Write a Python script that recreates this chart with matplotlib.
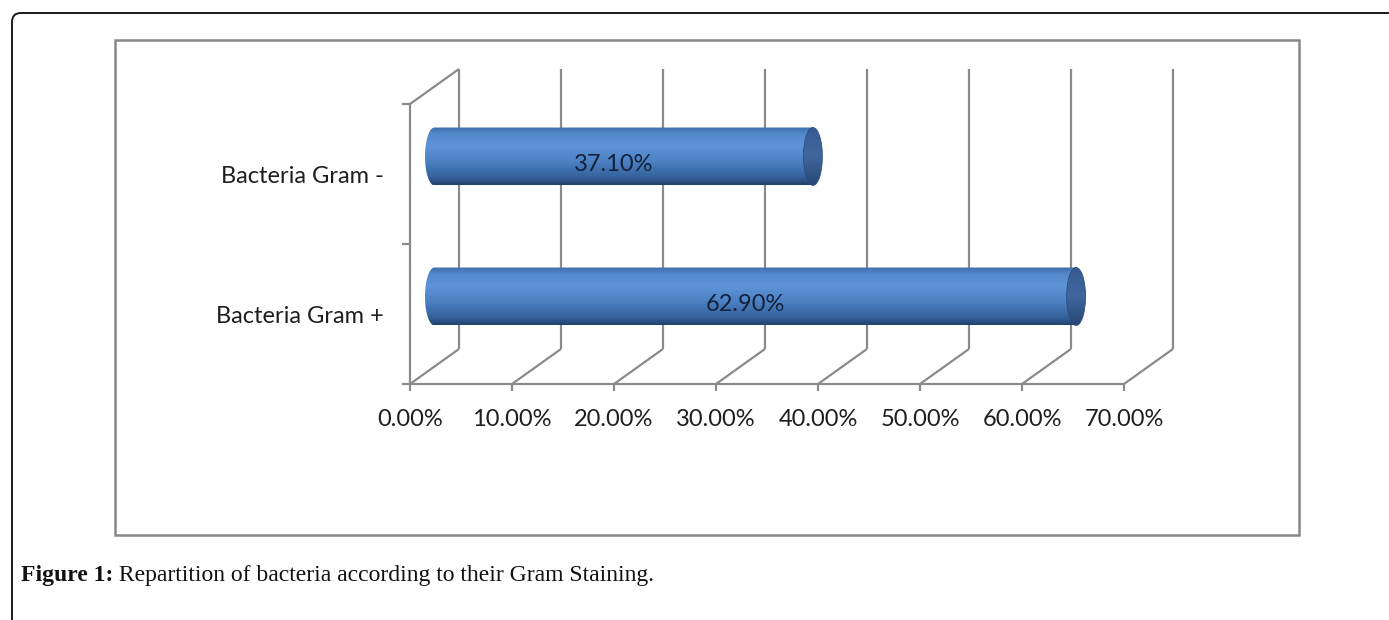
import numpy as np
import matplotlib.pyplot as plt
from matplotlib.patches import PathPatch, Ellipse, FancyBboxPatch, Rectangle
from matplotlib.path import Path
from matplotlib.colors import LinearSegmentedColormap

# data
categories = ['Bacteria Gram +', 'Bacteria Gram -']
values = [62.90, 37.10]
x_ticks = [0, 10, 20, 30, 40, 50, 60, 70]
x_tick_labels = [f'{t:.2f}%' for t in x_ticks]
caption_bold = 'Figure 1:'
caption_text = ' Repartition of bacteria according to their Gram Staining.'

plt.rcParams['font.family'] = ['Lato', 'DejaVu Sans']

W, H = 1389, 620
fig = plt.figure(figsize=(W / 100, H / 100), dpi=100)

# outer page frame (only top and left edges visible, rounded corner)
fig.patches.append(FancyBboxPatch((0.12, -2.0), 20, 6.2 - 0.13 + 2.0,
                                  boxstyle='round,pad=0,rounding_size=0.09',
                                  transform=fig.dpi_scale_trans, facecolor='none',
                                  edgecolor='#1a1a1a', lw=1.4))
# chart area border
fig.patches.append(Rectangle((1.15, 0.85), 11.84, 4.95, transform=fig.dpi_scale_trans,
                             facecolor='none', edgecolor='#878787', lw=1.8))

ax = fig.add_axes([410 / W, 236 / H, 714 / W, 280 / H])
ax.set_xlim(0, 70)
ax.set_ylim(0, 2)
ax.axis('off')

# oblique depth of the 3D box, in data units
DX, DY = 4.8, 0.25


def proj(x, y, d):
    return np.asarray(x) + np.asarray(d) * DX, np.asarray(y) + np.asarray(d) * DY


GRID = '#8a8a8a'
LW = 1.6
FS = 17
kw = dict(color=GRID, lw=LW, clip_on=False, solid_capstyle='butt', zorder=1)

# back wall gridlines and floor diagonals
for t in x_ticks:
    xs, ys = proj([t, t], [0, 2], 1)
    ax.plot(xs, ys, **kw)
    xs, ys = proj([t, t], [0, 0], [0, 1])
    ax.plot(xs, ys, **kw)

# left wall: front edge and top diagonal
ax.plot([0, 0], [0, 2], **kw)
xs, ys = proj([0, 0], [2, 2], [0, 1])
ax.plot(xs, ys, **kw)

# front baseline with ticks
ax.plot([-0.78, 70], [0, 0], **kw)
for t in x_ticks:
    ax.plot([t, t], [0, -0.05], **kw)
for yb in [1, 2]:
    ax.plot([-0.78, 0], [yb, yb], **kw)

for t, lab in zip(x_ticks, x_tick_labels):
    ax.annotate(lab, xy=(t, 0), xytext=(0, -30.6), textcoords='offset points',
                ha='center', va='baseline', fontsize=FS, color='#1e1e1e')

centers = np.arange(len(categories)) + 0.5
for c, cat in zip(centers, categories):
    ax.annotate(cat, xy=(0, c), xytext=(-18.7, -6.7), textcoords='offset points',
                ha='right', va='baseline', fontsize=FS, color='#1e1e1e')

# cylinders
R_Y = 0.207
R_X = 0.93
body_cmap = LinearSegmentedColormap.from_list('body', [
    (0.0, '#21406c'), (0.12, '#345f98'), (0.4, '#4b80c2'),
    (0.68, '#5f95d8'), (0.88, '#5289cb'), (1.0, '#3e6dab')])
cap_cmap = LinearSegmentedColormap.from_list('cap', [
    (0.0, '#284874'), (0.5, '#3f679f'), (1.0, '#375c92')])
grad = np.linspace(0, 1, 256).reshape(-1, 1)

for c, v in zip(centers, values):
    x0, cm = proj(0, c, 0.5)
    x1 = x0 + v
    th = np.linspace(np.pi / 2, 3 * np.pi / 2, 60)
    verts = [(x0 + R_X * np.cos(a), cm + R_Y * np.sin(a)) for a in th]
    verts += [(x1, cm - R_Y), (x1, cm + R_Y), verts[0]]
    body = PathPatch(Path(verts), facecolor='none', edgecolor='none')
    ax.add_patch(body)
    im = ax.imshow(grad, extent=[x0 - R_X, x1 + R_X, cm - R_Y, cm + R_Y],
                   origin='lower', cmap=body_cmap, aspect='auto',
                   interpolation='bicubic', zorder=3)
    im.set_clip_path(body)

    cap = Ellipse((x1, cm), 2 * R_X, 2 * R_Y, facecolor='none', edgecolor='#2d4e7e',
                  lw=0.6, zorder=5)
    ax.add_patch(cap)
    im2 = ax.imshow(grad, extent=[x1 - R_X, x1 + R_X, cm - R_Y, cm + R_Y],
                    origin='lower', cmap=cap_cmap, aspect='auto',
                    interpolation='bicubic', zorder=4)
    im2.set_clip_path(cap)

    tx, ty = proj(v / 2, c, 0.29)
    ax.annotate(f'{v:.2f}%', xy=(tx, ty), xytext=(0, -5.5), textcoords='offset points',
                ha='center', va='baseline', fontsize=FS, color='#13223c', zorder=6)

ax.set_xlim(0, 70)
ax.set_ylim(0, 2)

# caption
t1 = fig.text(21 / W, 1 - 581 / H, caption_bold, family=['Liberation Serif', 'DejaVu Serif'],
              fontweight='bold', fontsize=17, va='baseline', color='#111111')
ax.annotate(caption_text, xy=(1, 0), xycoords=t1, xytext=(0, 0), textcoords='offset points',
            ha='left', va='bottom', family=['Liberation Serif', 'DejaVu Serif'],
            fontsize=17, color='#111111', annotation_clip=False)

fig.savefig('out.png', dpi=100)
